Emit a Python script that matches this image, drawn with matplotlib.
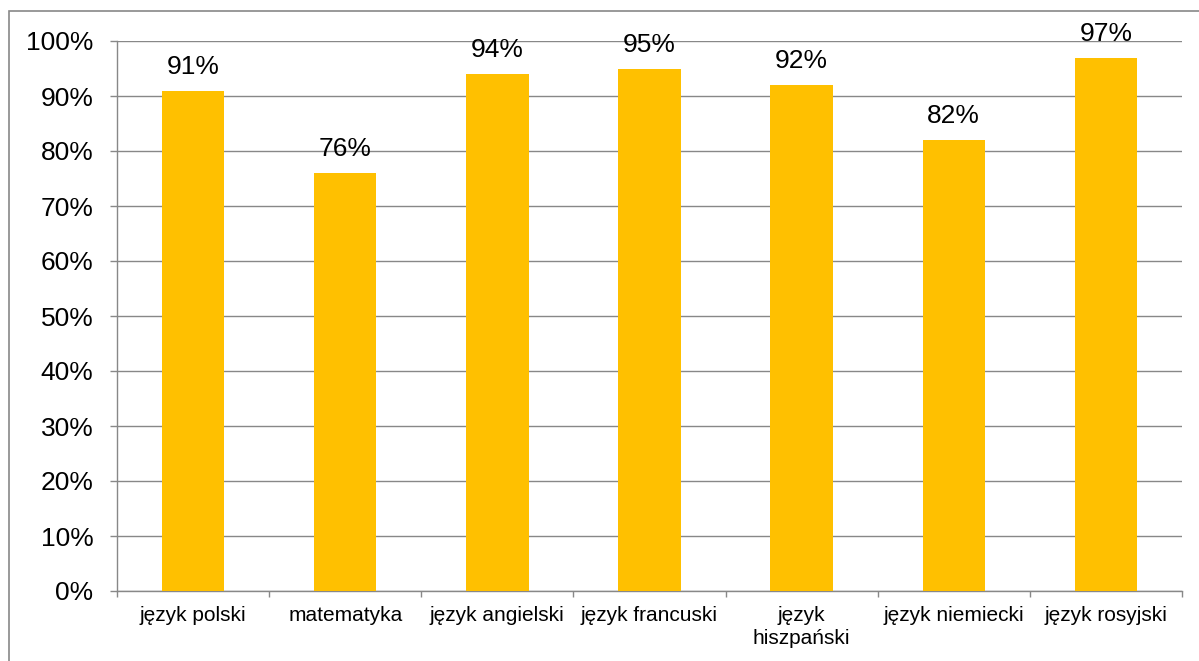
import matplotlib
matplotlib.use("Agg")
import matplotlib.pyplot as plt
from matplotlib.patches import Rectangle
import numpy as np

categories = ["język polski", "matematyka", "język angielski", "język francuski",
              "język\nhiszpański", "język niemiecki", "język rosyjski"]
values = [0.91, 0.76, 0.94, 0.95, 0.92, 0.82, 0.97]
y_ticks = [0.0, 0.1, 0.2, 0.3, 0.4, 0.5, 0.6, 0.7, 0.8, 0.9, 1.0]


def main():
    plt.rcParams["font.family"] = ["Liberation Sans", "DejaVu Sans"]
    grey = "#888888"

    fig = plt.figure(figsize=(11.99, 6.61), dpi=100)
    ax = fig.add_axes([117 / 1199, 70 / 661, 1065 / 1199, 550 / 661])

    x = np.arange(len(categories))
    bars = ax.bar(x, values, width=0.41, color="#FFC000", zorder=3)
    for b, v in zip(bars, values):
        ax.text(b.get_x() + b.get_width() / 2, v + 0.021, f"{v * 100:.0f}%",
                ha="center", va="bottom", fontsize=19, color="black")

    ax.set_xlim(-0.5, len(categories) - 0.5)
    ax.set_ylim(0, 1)
    ax.set_yticks(y_ticks)
    ax.set_yticklabels([f"{t * 100:.0f}%" for t in y_ticks], fontsize=19)
    ax.yaxis.grid(True, color=grey, linewidth=1, zorder=0)

    # category boundaries carry the tick marks, centres carry the labels
    ax.set_xticks(np.arange(len(categories) + 1) - 0.5)
    ax.set_xticklabels([])
    ax.set_xticks(x, minor=True)
    ax.set_xticklabels(categories, minor=True, fontsize=15, linespacing=1.25)
    ax.tick_params(axis="x", which="major", length=4.5, color=grey, width=1)
    ax.tick_params(axis="x", which="minor", length=0, pad=11)
    ax.tick_params(axis="y", length=5, color=grey, width=1, pad=12)

    for s in ["top", "right"]:
        ax.spines[s].set_visible(False)
    for s in ["left", "bottom"]:
        ax.spines[s].set_color(grey)
        ax.spines[s].set_linewidth(1)

    fig.patches.append(Rectangle((9 / 1199, -0.1), 1.2, (661 - 11) / 661 + 0.1,
                                 transform=fig.transFigure, fill=False,
                                 edgecolor=grey, linewidth=1.2))

    fig.savefig("out.png", dpi=100)


if __name__ == "__main__":
    main()
